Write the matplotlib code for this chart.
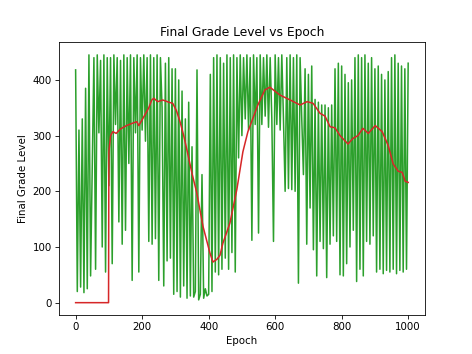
import numpy as np
import matplotlib
matplotlib.use('Agg')
import matplotlib.pyplot as plt


# raw grade level, read every 5 epochs
grade_epochs = np.arange(0, 1001, 5)
grade_values = [
    418, 20, 310, 28, 330, 18, 385, 25, 445, 48,
    240, 440, 60, 445, 305, 435, 100, 445, 55, 440,
    210, 440, 70, 445, 320, 440, 145, 435, 105, 445,
    130, 440, 250, 445, 40, 440, 305, 445, 55, 440,
    310, 445, 290, 440, 110, 445, 105, 440, 115, 445,
    40, 440, 350, 30, 430, 75, 440, 80, 420, 15,
    420, 20, 400, 10, 380, 30, 330, 8, 360, 12,
    280, 10, 20, 418, 5, 15, 230, 8, 25, 12,
    15, 410, 20, 440, 55, 445, 50, 440, 60, 430,
    80, 445, 60, 440, 90, 445, 55, 440, 260, 445,
    300, 440, 330, 445, 310, 440, 112, 445, 320, 440,
    125, 445, 320, 440, 335, 445, 315, 440, 330, 110,
    445, 320, 440, 310, 445, 330, 200, 440, 205, 445,
    203, 440, 200, 445, 35, 440, 330, 230, 420, 105,
    410, 170, 425, 95, 365, 48, 360, 110, 355, 97,
    355, 45, 350, 105, 355, 120, 420, 110, 430, 50,
    425, 48, 410, 70, 395, 100, 400, 130, 440, 38,
    445, 60, 440, 48, 445, 110, 430, 105, 440, 120,
    420, 55, 425, 60, 410, 52, 400, 58, 415, 55,
    440, 60, 445, 52, 430, 58, 425, 55, 420, 60,
    430,
]

# smoothed grade level (red line)
avg_epochs = [0, 99, 100, 105, 112, 122, 135, 153, 170, 184, 190, 208, 220,
              229, 235, 247, 262, 280, 292, 303, 313, 325, 337, 350, 364,
              383, 404, 413, 425, 434, 443, 464, 485, 503, 518, 533, 548,
              569, 584, 599, 614, 645, 675, 696, 714, 735, 750, 765, 780,
              795, 819, 834, 849, 864, 880, 901, 922, 940, 955, 970, 982,
              991, 1000]
avg_values = [0, 0, 271, 300, 307, 304, 312, 318, 322, 325, 318, 337, 350,
              364, 367, 361, 364, 360, 358, 345, 327, 300, 268, 232, 198,
              137, 89, 73, 78, 85, 107, 143, 204, 271, 307, 331, 355,
              382, 387, 380, 373, 364, 355, 361, 358, 340, 335, 316, 314,
              300, 285, 295, 300, 313, 304, 318, 307, 282, 249, 236, 234,
              218, 216]

fig = plt.figure(figsize=(6.4, 4.8), dpi=73.75)
plt.plot(grade_epochs, grade_values, color='tab:green')
plt.plot(avg_epochs, avg_values, color='tab:red')
plt.title('Final Grade Level vs Epoch')
plt.xlabel('Epoch')
plt.ylabel('Final Grade Level')
plt.savefig('out.png', dpi=73.75)
